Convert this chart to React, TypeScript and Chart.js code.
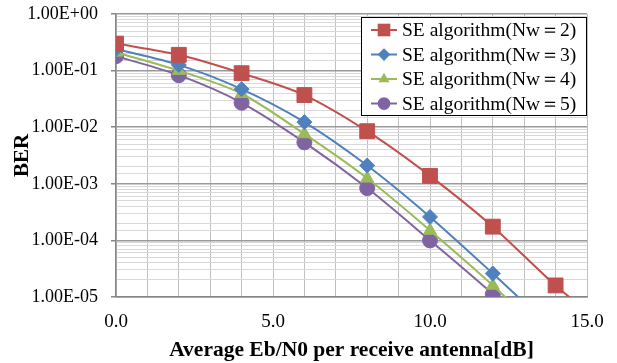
import React, { useEffect, useRef } from "react";
import { Chart, registerables } from "chart.js";

Chart.register(...registerables);

const snr = [0, 2, 4, 6, 8, 10, 12, 14, 16];
const berNw2 = [0.3, 0.19, 0.09, 0.037, 0.0085, 0.00138, 0.000175, 0.000016, 0.000002];
const berNw3 = [0.24, 0.126, 0.047, 0.0123, 0.0021, 0.00026, 0.000026, 0.0000024];
const berNw4 = [0.21, 0.1, 0.039, 0.0076, 0.00125, 0.00015, 0.000016, 0.0000014];
const berNw5 = [0.18, 0.083, 0.027, 0.0054, 0.00084, 0.0001, 0.0000112, 0.000001];

const seriesLabels = [
  "SE algorithm(Nw＝2)",
  "SE algorithm(Nw＝3)",
  "SE algorithm(Nw＝4)",
  "SE algorithm(Nw＝5)",
];
const seriesColors = ["#C0504D", "#4F81BD", "#9BBB59", "#8064A2"];
const seriesStyles = ["rect", "rectRot", "triangle", "circle"];
const seriesRadius = [10.5, 7.5, 7.5, 7.5];

const yTickLabels = ["1.00E+00", "1.00E-01", "1.00E-02", "1.00E-03", "1.00E-04", "1.00E-05"];
const xTickLabels = ["0.0", "5.0", "10.0", "15.0"];

const SERIF = "'Liberation Serif', 'Times New Roman', serif";

function drawMarker(ctx: CanvasRenderingContext2D, style: string, x: number, y: number, r: number, color: string) {
  ctx.save();
  ctx.fillStyle = color;
  ctx.beginPath();
  if (style === "rect") {
    const s = Math.SQRT1_2 * r;
    ctx.rect(x - s, y - s, 2 * s, 2 * s);
  } else if (style === "rectRot") {
    ctx.moveTo(x, y - r);
    ctx.lineTo(x + r, y);
    ctx.lineTo(x, y + r);
    ctx.lineTo(x - r, y);
    ctx.closePath();
  } else if (style === "triangle") {
    ctx.moveTo(x, y - r);
    ctx.lineTo(x + r * 0.866, y + r * 0.5);
    ctx.lineTo(x - r * 0.866, y + r * 0.5);
    ctx.closePath();
  } else {
    ctx.arc(x, y, r, 0, Math.PI * 2);
  }
  ctx.fill();
  ctx.restore();
}

const legendPlugin = {
  id: "boxLegend",
  afterDraw(chart: any) {
    const ctx: CanvasRenderingContext2D = chart.ctx;
    const area = chart.chartArea;
    const boxW = 226;
    const boxH = 99;
    const left = area.right - boxW;
    const top = area.top + 3;
    ctx.save();
    ctx.fillStyle = "#ffffff";
    ctx.fillRect(left, top, boxW, boxH);
    ctx.strokeStyle = "#000000";
    ctx.lineWidth = 1;
    ctx.strokeRect(left + 0.5, top + 0.5, boxW - 1, boxH - 1);
    ctx.font = `19.5px ${SERIF}`;
    ctx.textBaseline = "middle";
    ctx.textAlign = "left";
    for (let i = 0; i < seriesLabels.length; i++) {
      const cy = top + 13 + i * 24.5;
      ctx.strokeStyle = seriesColors[i];
      ctx.lineWidth = 2;
      ctx.beginPath();
      ctx.moveTo(left + 10, cy);
      ctx.lineTo(left + 36, cy);
      ctx.stroke();
      drawMarker(ctx, seriesStyles[i], left + 23, cy, seriesRadius[i] * 0.85, seriesColors[i]);
      ctx.fillStyle = "#000000";
      ctx.fillText(seriesLabels[i], left + 41, cy + 1);
    }
    ctx.restore();
  },
};

export default function App() {
  const canvasRef = useRef<HTMLCanvasElement>(null);

  useEffect(() => {
    const allSeries = [berNw2, berNw3, berNw4, berNw5];
    const datasets = allSeries.map((vals, i) => ({
      label: seriesLabels[i],
      data: vals.map((v, j) => ({ x: snr[j], y: v })),
      borderColor: seriesColors[i],
      backgroundColor: seriesColors[i],
      pointBackgroundColor: seriesColors[i],
      pointBorderColor: seriesColors[i],
      pointStyle: seriesStyles[i],
      pointRadius: seriesRadius[i],
      pointBorderWidth: 1,
      borderWidth: 2,
      tension: 0.3,
      clip: 0,
    }));
    const chart = new Chart(canvasRef.current!, {
      type: "line",
      data: { datasets: datasets as any },
      plugins: [legendPlugin],
      options: {
        animation: false,
        responsive: false,
        maintainAspectRatio: false,
        layout: { padding: { left: 0, right: 30, top: 14, bottom: 0 } },
        plugins: { legend: { display: false }, tooltip: { enabled: false } },
        scales: {
          x: {
            type: "linear",
            min: 0,
            max: 15,
            ticks: {
              stepSize: 1,
              autoSkip: false,
              maxRotation: 0,
              padding: 14,
              color: "#000000",
              font: { family: SERIF, size: 19 },
              callback: (v: any) => {
                const n = Number(v);
                if (n % 5 === 0) return xTickLabels[n / 5];
                return "";
              },
            },
            grid: { color: "#C0C0C0", drawTicks: false, lineWidth: 1 },
            border: { color: "#868686", width: 1.5 },
            title: {
              display: true,
              text: "Average Eb/N0 per receive antenna[dB]",
              color: "#000000",
              font: { family: SERIF, size: 21.5, weight: "bold" },
              padding: { top: 0, bottom: 0 },
            },
            afterFit: (scale: any) => {
              scale.height = 66;
              scale.paddingLeft = 0;
              scale.paddingRight = 0;
            },
          },
          y: {
            type: "logarithmic",
            min: 1e-5,
            max: 1,
            ticks: {
              autoSkip: false,
              padding: 13,
              color: "#000000",
              font: { family: SERIF, size: 18 },
              callback: (v: any) => {
                const n = Number(v);
                const e = Math.round(Math.log10(n));
                if (Math.abs(n / Math.pow(10, e) - 1) < 1e-6) return yTickLabels[-e];
                return "";
              },
            },
            grid: {
              color: (c: any) => (c.tick && c.tick.major ? "#9A9A9A" : "#D9D9D9"),
              lineWidth: (c: any) => (c.tick && c.tick.major ? 1.5 : 1),
              drawTicks: true,
              tickLength: 5,
              tickColor: (c: any) => (c.tick && c.tick.major ? "#868686" : "rgba(0,0,0,0)"),
            },
            border: { color: "#868686", width: 1.5 },
            title: {
              display: true,
              text: "BER",
              color: "#000000",
              font: { family: SERIF, size: 21, weight: "bold" },
              padding: { top: 10, bottom: 0 },
            },
            afterFit: (scale: any) => {
              scale.width = 116;
              scale.paddingTop = 0;
              scale.paddingBottom = 0;
            },
          },
        },
      } as any,
    });
    return () => chart.destroy();
  }, []);

  return (
    <div style={{ position: "fixed", left: 0, top: 0, width: 617, height: 363, background: "#fff" }}>
      <canvas ref={canvasRef} width={617} height={363} style={{ width: 617, height: 363 }} />
    </div>
  );
}
